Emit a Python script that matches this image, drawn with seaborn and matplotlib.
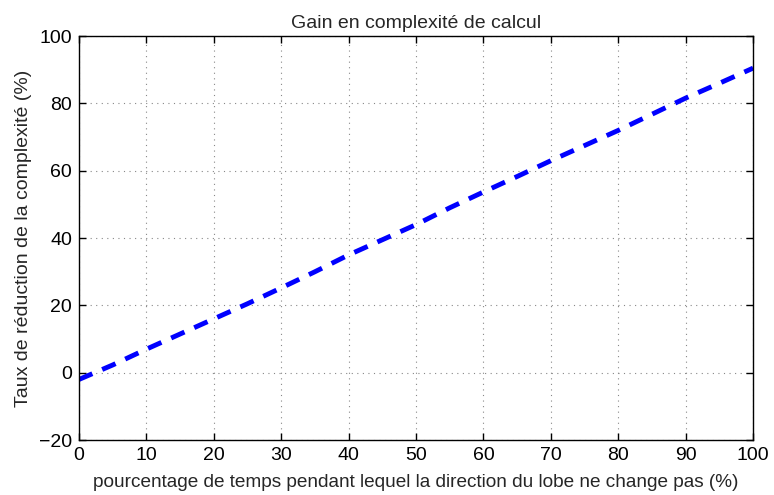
import matplotlib
matplotlib.use("Agg")
import matplotlib.pyplot as plt
import seaborn as sns
import pandas as pd

# Percentage of time the lobe direction stays unchanged vs. complexity reduction
pct_time = [0, 5, 10, 15, 20, 25, 30, 35, 40, 45, 50, 55, 60, 65, 70, 75, 80, 85, 90, 95, 100]
reduction = [-2.0, 2.3, 7.0, 11.5, 16.0, 20.5, 25.2, 30.0, 35.0, 39.5, 44.0, 49.0, 53.7, 58.3, 63.0, 67.5, 72.0, 76.8, 81.6, 86.0, 90.5]

x_ticks = [0, 10, 20, 30, 40, 50, 60, 70, 80, 90, 100]
y_ticks = [-20, 0, 20, 40, 60, 80, 100]

df = pd.DataFrame({"pct": pct_time, "red": reduction})

sns.set_theme(style="white")
plt.rcParams["font.family"] = ["Liberation Sans", "DejaVu Sans"]

fig = plt.figure(figsize=(7.74, 4.95), dpi=100)
ax = fig.add_axes([0.102, 0.111, 0.871, 0.816])

sns.lineplot(data=df, x="pct", y="red", ax=ax, color="#0000ff",
             linewidth=3.5, linestyle=(0, (3, 2.2)), dash_capstyle="butt")

ax.set_xlim(0, 100)
ax.set_ylim(-20, 100)
ax.set_xticks(x_ticks)
ax.set_yticks(y_ticks)
ax.set_yticklabels(["\u221220" if v < 0 else str(v) for v in y_ticks])

ax.grid(True, color="#888888", linestyle=(0, (1, 4)), linewidth=0.8)
for side in ["top", "right", "bottom", "left"]:
    ax.spines[side].set_visible(True)
    ax.spines[side].set_color("black")
    ax.spines[side].set_linewidth(1.0)

ax.tick_params(direction="in", length=5, width=1, colors="black",
               labelsize=14, top=True, right=True, bottom=True, left=True,
               pad=5)

ax.set_title("Gain en complexité de calcul", fontsize=14, pad=6)
ax.set_xlabel("pourcentage de temps pendant lequel la direction du lobe ne change pas (%)",
              fontsize=13.7, labelpad=7)
ax.set_ylabel("Taux de réduction de la complexité (%)", fontsize=14, labelpad=5)

fig.savefig("out.png", dpi=100, facecolor="white")
